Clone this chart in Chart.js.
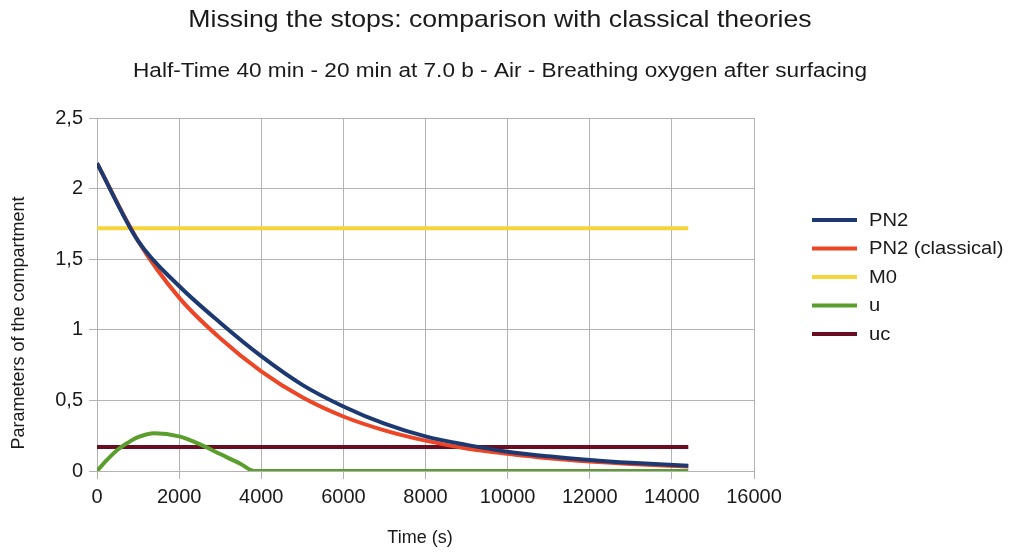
<!DOCTYPE html>
<html>
<head>
<meta charset="utf-8">
<script src="https://cdn.jsdelivr.net/npm/chart.js@4/dist/chart.umd.min.js"></script>
<style>
  html, body { margin: 0; padding: 0; background: #fff; }
  #wrap { width: 1010px; height: 552px; }
</style>
</head>
<body>
<div id="wrap"><canvas id="stopsChart" width="1010" height="552"></canvas></div>
<script>
// sampled times (s) for the decaying curves
const timesCurve = [0, 1000, 2000, 3000, 4000, 5000, 6000, 7000, 8000, 9000, 10000, 11000, 12000, 13000, 14400];
const pn2 = [2.18, 1.63, 1.31, 1.05, 0.813, 0.61, 0.457, 0.335, 0.245, 0.185, 0.137, 0.104, 0.078, 0.058, 0.037];
const pn2Classical = [2.18, 1.63, 1.228, 0.94, 0.706, 0.522, 0.386, 0.288, 0.215, 0.16, 0.122, 0.09, 0.067, 0.05, 0.031];

// u rises, peaks and drops to zero at ~3830 s
const timesU = [0, 250, 500, 750, 1000, 1400, 2000, 2500, 3000, 3500, 3830, 14400];
const u = [0, 0.08, 0.15, 0.2, 0.24, 0.268, 0.245, 0.19, 0.12, 0.05, 0, 0];

// constant levels
const timesFlat = [0, 14400];
const m0 = [1.72, 1.72];
const uc = [0.17, 0.17];

const seriesNames = ['PN2', 'PN2 (classical)', 'M0', 'u', 'uc'];
const seriesColors = ['#1c3a71', '#ec4626', '#f6d43c', '#5a9e2d', '#6a0d22'];

const titleText = 'Missing the stops: comparison with classical theories';
const subtitleText = 'Half-Time 40 min - 20 min at 7.0 b - Air - Breathing oxygen after surfacing';
const xTitle = 'Time (s)';
const yTitle = 'Parameters of the compartment';

const toPoints = (xs, ys) => xs.map((x, i) => ({ x: x, y: ys[i] }));

const seriesData = [
  toPoints(timesCurve, pn2),
  toPoints(timesCurve, pn2Classical),
  toPoints(timesFlat, m0),
  toPoints(timesU, u),
  toPoints(timesFlat, uc)
];

const datasets = seriesData.map((pts, i) => ({
  label: seriesNames[i],
  data: pts,
  borderColor: seriesColors[i],
  backgroundColor: seriesColors[i],
  borderWidth: 4,
  pointRadius: 0,
  showLine: true,
  fill: false,
  cubicInterpolationMode: 'monotone',
  // PN2 on top of the classical curve
  order: i === 0 ? 0 : 1
}));

const fontFamily = '"Liberation Sans", Arial, sans-serif';

// text centred on (cx, y), optionally widened and rotated
function drawText(ctx, text, cx, y, size, stretch, angle) {
  ctx.save();
  ctx.font = size + 'px ' + fontFamily;
  ctx.translate(cx, y);
  if (angle) ctx.rotate(angle);
  ctx.scale(stretch, 1);
  ctx.fillText(text, 0, 0);
  ctx.restore();
}

// titles, axis titles and the legend on the right
const decorations = {
  id: 'decorations',
  afterDraw(chart) {
    const ctx = chart.ctx;
    ctx.save();
    ctx.fillStyle = '#1a1a1a';
    ctx.textAlign = 'center';
    ctx.textBaseline = 'alphabetic';
    drawText(ctx, titleText, 500, 27, 24, 1.11);
    drawText(ctx, subtitleText, 500, 77, 20, 1.13);

    ctx.textBaseline = 'middle';
    drawText(ctx, xTitle, 420, 538, 18, 1);
    drawText(ctx, yTitle, 19, 323, 18, 1, -Math.PI / 2);

    ctx.textAlign = 'left';
    seriesNames.forEach((name, i) => {
      const y = 220 + i * 28.5;
      ctx.strokeStyle = seriesColors[i];
      ctx.lineWidth = 4;
      ctx.beginPath();
      ctx.moveTo(812, y);
      ctx.lineTo(857, y);
      ctx.stroke();
      drawText(ctx, name, 869, y + 1, 18, 1.12);
    });
    ctx.restore();
  }
};

new Chart(document.getElementById('stopsChart'), {
  type: 'scatter',
  data: { datasets: datasets },
  plugins: [decorations],
  options: {
    responsive: false,
    animation: false,
    events: [],
    layout: { padding: { left: 0, right: 256, top: 118, bottom: 0 } },
    plugins: {
      legend: { display: false },
      tooltip: { enabled: false },
      title: { display: false }
    },
    scales: {
      x: {
        type: 'linear',
        min: 0,
        max: 16000,
        afterFit(scale) { scale.height = 81; },
        ticks: {
          stepSize: 2000,
          color: '#1a1a1a',
          font: { family: fontFamily, size: 20 },
          padding: 6,
          maxRotation: 0,
          callback: (v) => String(v)
        },
        grid: { color: '#b3b3b3', tickLength: 8, lineWidth: 1 },
        border: { color: '#b3b3b3' }
      },
      y: {
        min: 0,
        max: 2.5,
        afterFit(scale) { scale.width = 97; },
        ticks: {
          stepSize: 0.5,
          color: '#1a1a1a',
          font: { family: fontFamily, size: 20 },
          padding: 6,
          callback: (v) => String(v).replace('.', ',')
        },
        grid: { color: '#b3b3b3', tickLength: 8, lineWidth: 1 },
        border: { color: '#b3b3b3' }
      }
    }
  }
});
</script>
</body>
</html>
